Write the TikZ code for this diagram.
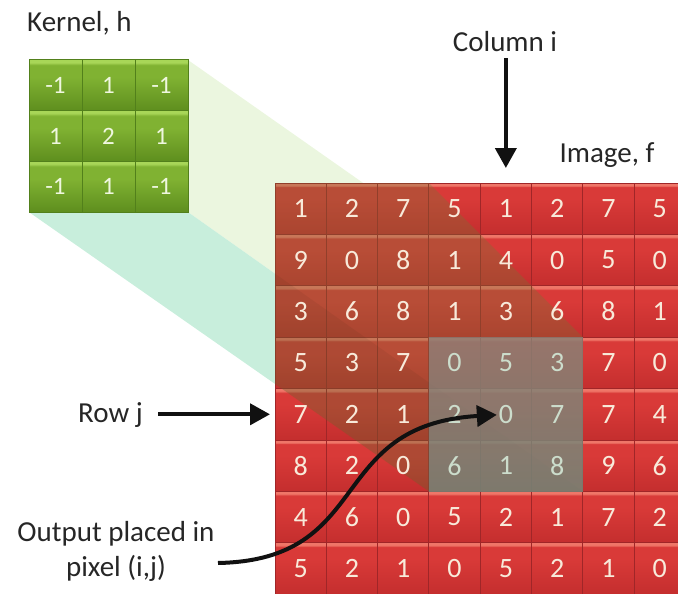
\documentclass[tikz,border=0pt]{standalone}
\usepackage{fontspec}
\setmainfont{Carlito}
\usetikzlibrary{arrows.meta}

% palette
\definecolor{redlo}{HTML}{C42E2E}
\definecolor{redmid}{HTML}{D93A38}
\definecolor{redhi}{HTML}{EF7668}
\definecolor{redline}{HTML}{A02628}
\definecolor{grnlo}{HTML}{5E8E1E}
\definecolor{grnmid}{HTML}{80B232}
\definecolor{grnhi}{HTML}{A8D658}
\definecolor{grnline}{HTML}{52801B}
\definecolor{facelight}{HTML}{EBF6DF}
\definecolor{facemint}{HTML}{C8EEDC}
\definecolor{tintcol}{HTML}{6F7A35}
\definecolor{wintop}{HTML}{8E8079}
\definecolor{winbot}{HTML}{74897F}
\definecolor{celltext}{HTML}{F8EADA}
\definecolor{wintext}{HTML}{CCDDCC}
\definecolor{kertext}{HTML}{EFF7DF}
\definecolor{labeltext}{HTML}{262626}
\definecolor{arrowcol}{HTML}{111111}

% cell shadings: dark bottom, flat body, thin light strip on top
\pgfdeclareverticalshading{redcell}{100bp}{color(0bp)=(redlo); color(25bp)=(redlo); color(60bp)=(redmid); color(71bp)=(redmid); color(72.5bp)=(redhi); color(75bp)=(redhi); color(100bp)=(redhi)}
\pgfdeclareverticalshading{grncell}{100bp}{color(0bp)=(grnlo); color(25bp)=(grnlo); color(58bp)=(grnmid); color(70bp)=(grnmid); color(72.5bp)=(grnhi); color(75bp)=(grnhi); color(100bp)=(grnhi)}

\pgfdeclarelayer{beam}
\pgfsetlayers{beam,main}

\tikzset{
  imgcell/.style={shading=redcell, draw=redline, line width=1pt, inner sep=0pt, outer sep=0pt,
    minimum width=51.3pt, minimum height=51.4pt, anchor=north west},
  kercell/.style={shading=grncell, draw=grnline, line width=1pt, inner sep=0pt, outer sep=0pt,
    minimum width=53pt, minimum height=50.7pt, anchor=north west},
  digit/.style={inner sep=0pt, font=\fontsize{28}{30}\selectfont},
  kdigit/.style={inner sep=0pt, text=kertext, font=\fontsize{25}{27}\selectfont},
  lbl/.style={inner sep=0pt, text=labeltext, font=\fontsize{29}{35}\selectfont},
  arr/.style={draw=arrowcol, line width=4pt, -{Triangle[width=21pt,length=20pt]}},
}

\begin{document}
\begin{tikzpicture}[x=1pt,y=-1pt]
\useasboundingbox (0,0) rectangle (678,594);
\clip (0,0) rectangle (678,594);

% image f
\foreach \row [count=\j from 0] in {{1,2,7,5,1,2,7,5},{9,0,8,1,4,0,5,0},{3,6,8,1,3,6,8,1},{5,3,7,0,5,3,7,0},{7,2,1,2,0,7,7,4},{8,2,0,6,1,8,9,6},{4,6,0,5,2,1,7,2},{5,2,1,0,5,2,1,0}}{
  \foreach \v [count=\i from 0] in \row {
    \node[imgcell] (c-\j-\i) at ({275+\i*51.3},{183+\j*51.4}) {};
  }
}

% kernel h
\foreach \row [count=\j from 0] in {{-1,1,-1},{1,2,1},{-1,1,-1}}{
  \foreach \v [count=\i from 0] in \row {
    \node[kercell] (k-\j-\i) at ({29+\i*53},{60+\j*50.7}) {};
    \node[kdigit] (kt-\j-\i) at (k-\j-\i) {\v};
  }
}

% projection of the kernel onto the image window
\begin{pgfonlayer}{beam}
  \fill[facelight] (k-0-2.north east) -- (c-3-5.north east) -- (c-5-5.south east) -- (k-2-2.south east) -- cycle;
  \fill[facemint] (k-2-0.south west) -- (k-2-2.south east) -- (c-5-5.south east) -- (c-5-3.south west) -- cycle;
\end{pgfonlayer}

% the beam darkens the image where it passes over it
\begin{scope}
  \clip (c-0-0.north west) rectangle (c-7-7.south east);
  \fill[tintcol, fill opacity=0.3] (c-0-0.north west) -- (c-0-3.north west) -- (c-3-5.north east)
    -- (c-5-5.south east) -- (c-5-3.south west) -- (k-2-0.south west) -- cycle;
  \fill[black!70!brown, fill opacity=0.08] (k-2-2.south east) -- (c-5-5.south east)
    -- (c-5-3.south west) -- (k-2-0.south west) -- cycle;
\end{scope}

% 3x3 window under the kernel
\shade[top color=wintop, bottom color=winbot, fill opacity=0.78]
  (c-3-3.north west) rectangle (c-5-5.south east);

% pixel values
\foreach \row [count=\j from 0] in {{1,2,7,5,1,2,7,5},{9,0,8,1,4,0,5,0},{3,6,8,1,3,6,8,1},{5,3,7,0,5,3,7,0},{7,2,1,2,0,7,7,4},{8,2,0,6,1,8,9,6},{4,6,0,5,2,1,7,2},{5,2,1,0,5,2,1,0}}{
  \foreach \v [count=\i from 0] in \row {
    \pgfmathtruncatemacro\inwin{(\i>2)&&(\i<6)&&(\j>2)&&(\j<6)}
    \ifnum\inwin=1 \def\dcol{wintext}\else\def\dcol{celltext}\fi
    \node[digit, text=\dcol] (t-\j-\i) at (c-\j-\i) {\v};
  }
}

% labels
\node[lbl, anchor=west] (kerL) at (27,23) {Kernel, h};
\node[lbl] (colL) at (505,42) {Column i};
\node[lbl] (imgL) at (607,155) {Image, f};
\node[lbl, anchor=base east] (rowL) at (143,422) {Row j};
\node[lbl, align=center, anchor=north] (outL) at (116,521) {Output placed in\\pixel (i,j)};
\coordinate (outS) at (218,563);

% connectors
\draw[arr, shorten <=6pt, shorten >=15pt] (colL.south -| c-0-4.north) -- (c-0-4.north);
\draw[arr, shorten <=15pt, shorten >=5pt] (rowL.east |- c-4-0.west) -- (c-4-0.west);
\draw[arr, shorten >=9pt] (outS) .. controls (375,560) and (325,425) .. (c-4-4.center);
\end{tikzpicture}
\end{document}
